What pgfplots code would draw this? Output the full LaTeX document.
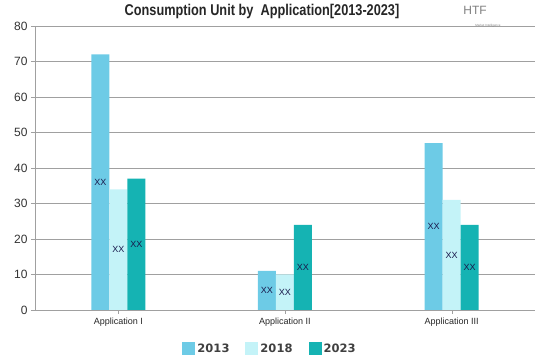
\documentclass[border=0pt]{standalone}
\usepackage{pgfplots}
\pgfplotsset{compat=1.18}
\usepackage{fontspec}
\setmainfont{Liberation Sans}
\newfontfamily\legfont{DejaVu Sans}
\definecolor{cA}{HTML}{6DCBE6}
\definecolor{cB}{HTML}{C4F3F8}
\definecolor{cC}{HTML}{15B3B3}
\definecolor{gridc}{HTML}{A0A0A0}
\begin{document}
\begin{tikzpicture}
\useasboundingbox (0pt,0pt) rectangle (539pt,359pt);
\begin{axis}[
  at={(35pt,49pt)}, anchor=south west,
  scale only axis, width=500pt, height=284pt,
  ymin=0, ymax=80, ytick={0,10,...,80},
  xmin=-0.5, xmax=2.5,
  xtick={0,1,2},
  xticklabels={Application I, Application II, Application III},
  axis lines*=left,
  axis line style={gridc},
  ymajorgrids, grid style={gridc, line width=0.6pt},
  major tick style={gridc},
  tick align=outside,
  major tick length=4pt,
  yticklabel style={font=\fontsize{12}{12}\selectfont, text=black!80},
  xticklabel style={font=\fontsize{9}{9}\selectfont, text=black!85},
  /pgf/number format/assume math mode=true,
  ybar=0pt, bar width=18pt,
  visualization depends on=y \as \rawy,
  nodes near coords={XX},
  every node near coord/.append style={anchor=center, font=\fontsize{9}{9}\selectfont, text=black!75!blue!80!gray, yshift={-1.775*\rawy}},
  legend style={at={(0.47,-0.137)}, anchor=center, draw=none, legend columns=-1,
    font=\legfont\fontsize{11.5}{12}\selectfont\bfseries, text=black!75,
    /tikz/every even column/.append style={column sep=14pt}},
  legend image code/.code={\fill[#1] (0pt,-6pt) rectangle (13pt,7pt);},
  clip=false,
]
\addplot[fill=cA, draw=none] coordinates {(0,72) (1,11) (2,47)};
\addplot[fill=cB, draw=none] coordinates {(0,34) (1,10) (2,31)};
\addplot[fill=cC, draw=none] coordinates {(0,37) (1,24) (2,24)};
\legend{2013, 2018, 2023}
\end{axis}
\node[text=black!85] at (262pt,348pt) {\scalebox{0.98}[1.2]{\fontsize{13}{13}\selectfont\bfseries Consumption Unit by\ \ Application[2013-2023]}};
\node[text=black!50] at (475pt,349pt) {\fontsize{12}{12}\selectfont HTF};
\node[text=black!50] at (488pt,333pt) {\fontsize{3}{3}\selectfont Market Intelligence};
\end{tikzpicture}
\end{document}
